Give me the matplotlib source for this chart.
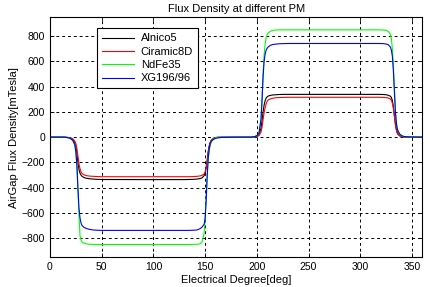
import matplotlib
matplotlib.use("Agg")
import matplotlib.pyplot as plt

# electrical angle samples [deg]
angle = [0, 14, 18, 20, 22, 24, 25, 26, 27, 28, 29, 30, 31, 33, 35, 38, 42, 46, 50, 90,
         130, 134, 138, 142, 145, 147, 149, 150, 151, 152, 153, 154, 155, 156, 158, 160, 162, 166, 180,
         194, 198, 200, 202, 204, 205, 206, 207, 208, 209, 210, 211, 213, 215, 218, 222, 226, 230, 270,
         310, 314, 318, 322, 325, 327, 329, 330, 331, 332, 333, 334, 335, 336, 338, 340, 342, 346, 360]

# air gap flux density [mTesla]
alnico5 = [0, 0, -3, -8, -18, -45, -75, -130, -200, -255,
           -285, -300, -310, -320, -325, -329, -332, -334, -335, -336,
           -336, -335, -334, -332, -328, -322, -305, -285, -240, -180,
           -110, -65, -40, -25, -10, -4, -1, 0, 0,
           0, 3, 8, 20, 70, 130, 200, 255, 290, 310,
           320, 326, 331, 334, 336, 338, 339, 339, 339, 339,
           339, 339, 338, 336, 332, 325, 315, 290, 240, 170,
           100, 55, 30, 12, 5, 1, 0, 0]
ciramic8d = [0, 0, -2, -5, -12, -30, -50, -90, -150, -210,
             -250, -275, -288, -298, -304, -308, -310, -312, -313, -313,
             -313, -313, -312, -310, -307, -302, -292, -275, -240, -185,
             -120, -70, -40, -22, -8, -3, -1, 0, 0,
             0, 2, 5, 12, 40, 80, 140, 195, 235, 265,
             285, 295, 303, 308, 312, 314, 315, 316, 316, 316,
             316, 316, 315, 313, 310, 303, 292, 270, 225, 160,
             95, 50, 25, 10, 4, 1, 0, 0]
ndfe35 = [0, 0, -5, -12, -25, -60, -120, -230, -420, -620,
          -780, -815, -830, -840, -845, -848, -849, -850, -850, -850,
          -850, -850, -849, -848, -845, -830, -760, -640, -470, -300,
          -170, -100, -60, -35, -15, -5, 0, 0, 0,
          0, 5, 12, 30, 150, 300, 500, 650, 740, 790,
          815, 825, 838, 845, 849, 850, 850, 850, 850, 850,
          850, 850, 849, 846, 838, 815, 780, 700, 560, 380,
          200, 110, 60, 25, 10, 3, 0, 0]
xg196 = [0, 0, -5, -12, -25, -60, -115, -220, -400, -560,
         -640, -680, -700, -715, -722, -730, -735, -737, -738, -738,
         -738, -738, -737, -735, -725, -712, -690, -640, -500, -300,
         -160, -90, -50, -32, -18, -10, -6, -2, 0,
         0, 5, 12, 30, 140, 290, 480, 600, 660, 690,
         705, 715, 727, 733, 737, 740, 741, 742, 742, 742,
         742, 742, 741, 738, 732, 715, 690, 640, 520, 350,
         190, 100, 55, 25, 12, 6, 2, 0]

series = [("Alnico5", alnico5, "black"),
          ("Ciramic8D", ciramic8d, "red"),
          ("NdFe35", ndfe35, "#00ff00"),
          ("XG196/96", xg196, "blue")]

plt.rcParams["font.family"] = ["Liberation Sans", "DejaVu Sans"]
fs = 8

fig = plt.figure(figsize=(4.31, 2.87), dpi=100)
ax = fig.add_axes([0.116, 0.104, 0.864, 0.836])

for name, vals, col in series:
    ax.plot(angle, vals, color=col, lw=0.8, label=name)

ax.set_xlim(0, 360)
ax.set_ylim(-950, 950)
ax.set_xticks(range(0, 351, 50))
ax.set_yticks(range(-800, 801, 200))
ax.grid(True, color="black", linestyle=(0, (3, 3)), linewidth=0.7)
ax.tick_params(direction="in", top=True, right=True, labelsize=7.5, length=3, width=0.6)
for sp in ax.spines.values():
    sp.set_linewidth(0.8)

ax.set_title("Flux Density at different PM", fontsize=fs, pad=4)
ax.set_xlabel("Electrical Degree[deg]", fontsize=fs, labelpad=2)
ax.set_ylabel("AirGap Flux Density[mTesla]", fontsize=fs, labelpad=2)

leg = ax.legend(loc="upper left", bbox_to_anchor=(0.126, 0.953), fontsize=fs,
                fancybox=False, framealpha=1, edgecolor="black", handlelength=2.9,
                labelspacing=0.3, borderpad=0.45, handletextpad=0.6, borderaxespad=0)
leg.get_frame().set_linewidth(0.8)

fig.savefig("out.png", dpi=100)
